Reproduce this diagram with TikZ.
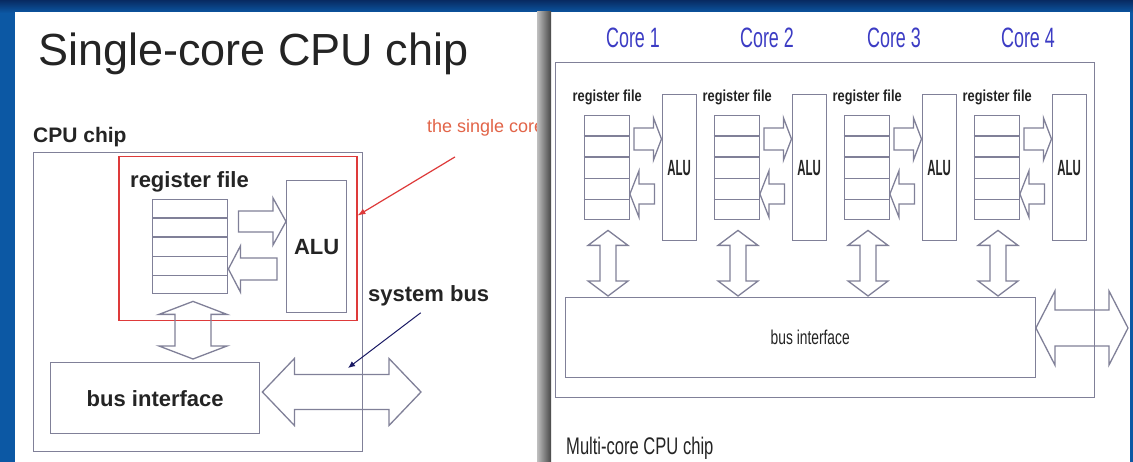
\documentclass[tikz,border=0pt]{standalone}
\usepackage{fontspec}
\setmainfont{Liberation Sans}
\usepackage{graphicx}
\usetikzlibrary{calc,arrows.meta}

\definecolor{frameblue}{RGB}{12,88,164}
\definecolor{framedark}{RGB}{8,42,98}
\definecolor{boxgray}{RGB}{128,128,152}
\definecolor{inkgray}{RGB}{36,36,36}
\definecolor{corered}{RGB}{222,58,58}
\definecolor{notered}{RGB}{226,100,72}
\definecolor{pointnavy}{RGB}{25,25,100}
\definecolor{coreblue}{RGB}{60,60,196}

% horizontally condensed text
\newcommand\xsqz[2]{\scalebox{#1}[1]{#2}}
\newcommand\fsz[1]{\fontsize{#1}{#1}\selectfont}

% single block arrow: tail x from #1, tip x from #2, centre line y=#3 (px),
% shaft half height #4, head half height #5, head length #6 (negative = pointing left)
\newcommand\sarrowH[6]{%
  \draw[blk] let \p1=(#1),\p2=(#2) in
    ({\x1},{-#3pt+#4pt}) -- ({\x2-(#6pt)},{-#3pt+#4pt}) -- ({\x2-(#6pt)},{-#3pt+#5pt})
    -- ({\x2},{-#3pt}) -- ({\x2-(#6pt)},{-#3pt-#5pt}) -- ({\x2-(#6pt)},{-#3pt-#4pt})
    -- ({\x1},{-#3pt-#4pt}) -- cycle;}

% horizontal double block arrow between the x of #1 and #2 at y=#3
\newcommand\darrowH[6]{%
  \draw[blk] let \p1=(#1),\p2=(#2) in
    ({\x1},{-#3pt}) -- ({\x1+#6pt},{-#3pt+#5pt}) -- ({\x1+#6pt},{-#3pt+#4pt})
    -- ({\x2-#6pt},{-#3pt+#4pt}) -- ({\x2-#6pt},{-#3pt+#5pt}) -- ({\x2},{-#3pt})
    -- ({\x2-#6pt},{-#3pt-#5pt}) -- ({\x2-#6pt},{-#3pt-#4pt})
    -- ({\x1+#6pt},{-#3pt-#4pt}) -- ({\x1+#6pt},{-#3pt-#5pt}) -- cycle;}

% vertical double block arrow between the y of #1 (top) and #2 (bottom) at x=#3
\newcommand\darrowV[6]{%
  \draw[blk] let \p1=(#1),\p2=(#2) in
    ({#3pt},{\y1}) -- ({#3pt+#5pt},{\y1-#6pt}) -- ({#3pt+#4pt},{\y1-#6pt})
    -- ({#3pt+#4pt},{\y2+#6pt}) -- ({#3pt+#5pt},{\y2+#6pt}) -- ({#3pt},{\y2})
    -- ({#3pt-#5pt},{\y2+#6pt}) -- ({#3pt-#4pt},{\y2+#6pt})
    -- ({#3pt-#4pt},{\y1-#6pt}) -- ({#3pt-#5pt},{\y1-#6pt}) -- cycle;}

\begin{document}
\begin{tikzpicture}[x=1pt,y=-1pt,
  box/.style={draw=boxgray,line width=1.4pt,inner sep=0pt,anchor=north west},
  rowline/.style={draw=boxgray,line width=1.4pt},
  blk/.style={draw=boxgray,line width=1.3pt,line join=miter},
  lbl/.style={inner sep=0pt,text=inkgray}]

\useasboundingbox (0,0) rectangle (1133,462);

% frame and the two white panels
\fill[frameblue] (0,0) rectangle (1133,462);
\shade[top color=framedark,bottom color=frameblue] (0,0) rectangle (1133,13);
\fill[white] (15,12) rectangle (537,462);
\fill[white] (551,12) rectangle (1130,462);

% ---------------- single-core chip ----------------
\node[lbl,anchor=base west,font=\fsz{45}] (title) at (38,66) {Single-core CPU chip};
\node[lbl,anchor=base west,font=\bfseries\fsz{21}] (chiplbl) at (33,143) {CPU chip};
\node[box,minimum width=329pt,minimum height=299pt] (chip) at (33,152) {};
\node[box,draw=corered,line width=1.5pt,minimum width=238pt,minimum height=164pt] (core) at (118,156) {};
\node[lbl,anchor=base west,font=\bfseries\fsz{22}] (rflbl) at (130,188) {register file};
\node[box,minimum width=75pt,minimum height=94pt] (rf) at (152,199) {};
\foreach \k in {1,...,4}
  \draw[rowline] ($(rf.north west)!\k/5!(rf.south west)$) -- ($(rf.north east)!\k/5!(rf.south east)$);
\node[box,minimum width=60pt,minimum height=132pt,font=\bfseries\fsz{22},text=inkgray] (alu) at (286,180) {ALU};
\node[box,minimum width=209pt,minimum height=71pt,font=\bfseries\fsz{22},text=inkgray] (bus) at (50,362) {bus interface};

\sarrowH{$(rf.east)+(10,0)$}{alu.west}{221.5}{10.5}{23.5}{13}
\sarrowH{$(alu.west)+(-9,0)$}{rf.east}{269}{11}{23}{-12}
\darrowV{$(rf.south)+(0,7)$}{$(bus.north)+(0,-3)$}{193}{18}{34}{13}
\coordinate (sysbus) at (421,392);
\darrowH{$(bus.east)+(2,0)$}{sysbus}{392}{17.5}{33.5}{32}

\node[lbl,anchor=base west,font=\bfseries\fsz{22}] (sblbl) at (368,302) {system bus};
\coordinate (sbpt) at (348,368);
\draw[pointnavy,line width=1pt,-{Latex[length=7pt,width=6pt]}] ($(sblbl.south)+(-8,6)$) -- (sbpt);

\node[lbl,anchor=base west,font=\fsz{18},text=notered] (sclbl) at (427,133) {the single core};
\draw[corered,line width=1.2pt,-{Latex[length=8pt,width=6pt]}]
  ($(sclbl.south west)+(28,20)$) -- ($(core.north east)!0.36!(core.south east)$);

% ---------------- multi-core chip ----------------
\node[box,minimum width=539pt,minimum height=335pt] (mchip) at (555,62) {};
\node[box,minimum width=470pt,minimum height=80pt,font=\fsz{20},text=inkgray] (mbus) at (564.5,297)
  {\hspace*{20pt}\xsqz{0.69}{bus interface}};

\foreach \i/\sx/\cx in {1/583.5/633,2/713.5/767,3/843.5/894,4/973.5/1028}{
  \pgfmathsetmacro\ax{\sx+24.5}
  \node[lbl,anchor=base,font=\fsz{28},text=coreblue] (core\i) at (\cx,48) {\xsqz{0.64}{Core \i}};
  \node[lbl,anchor=base west,font=\bfseries\fsz{16}] (rl\i) at (\sx-11,102) {\xsqz{0.8}{register file}};
  \node[box,minimum width=45pt,minimum height=104pt] (rf\i) at (\sx,115) {};
  \foreach \k in {1,...,4}
    \draw[rowline] ($(rf\i.north west)!\k/5!(rf\i.south west)$) -- ($(rf\i.north east)!\k/5!(rf\i.south east)$);
  \node[box,minimum width=34pt,minimum height=146pt,font=\bfseries\fsz{22},text=inkgray] (alu\i) at (\sx+78,94) {\xsqz{0.52}{ALU}};
  \sarrowH{$(rf\i.east)+(4,0)$}{alu\i.west}{139}{11}{21}{8}
  \sarrowH{$(alu\i.west)+(-7,0)$}{rf\i.east}{194}{10}{23}{-9}
  \darrowV{$(rf\i.south)+(0,10)$}{$(mbus.north)+(0,-1)$}{\ax}{8}{20}{15}
}

\coordinate (msys) at (1128,328);
\darrowH{mbus.east}{msys}{328}{18}{37}{19}

\node[lbl,anchor=base west,font=\fsz{24}] (mclbl) at (566,454) {\xsqz{0.69}{Multi-core CPU chip}};

% divider between the two panels
\shade[left color=gray!50,right color=black!72] (537,12) rectangle (551,462);
\end{tikzpicture}
\end{document}
